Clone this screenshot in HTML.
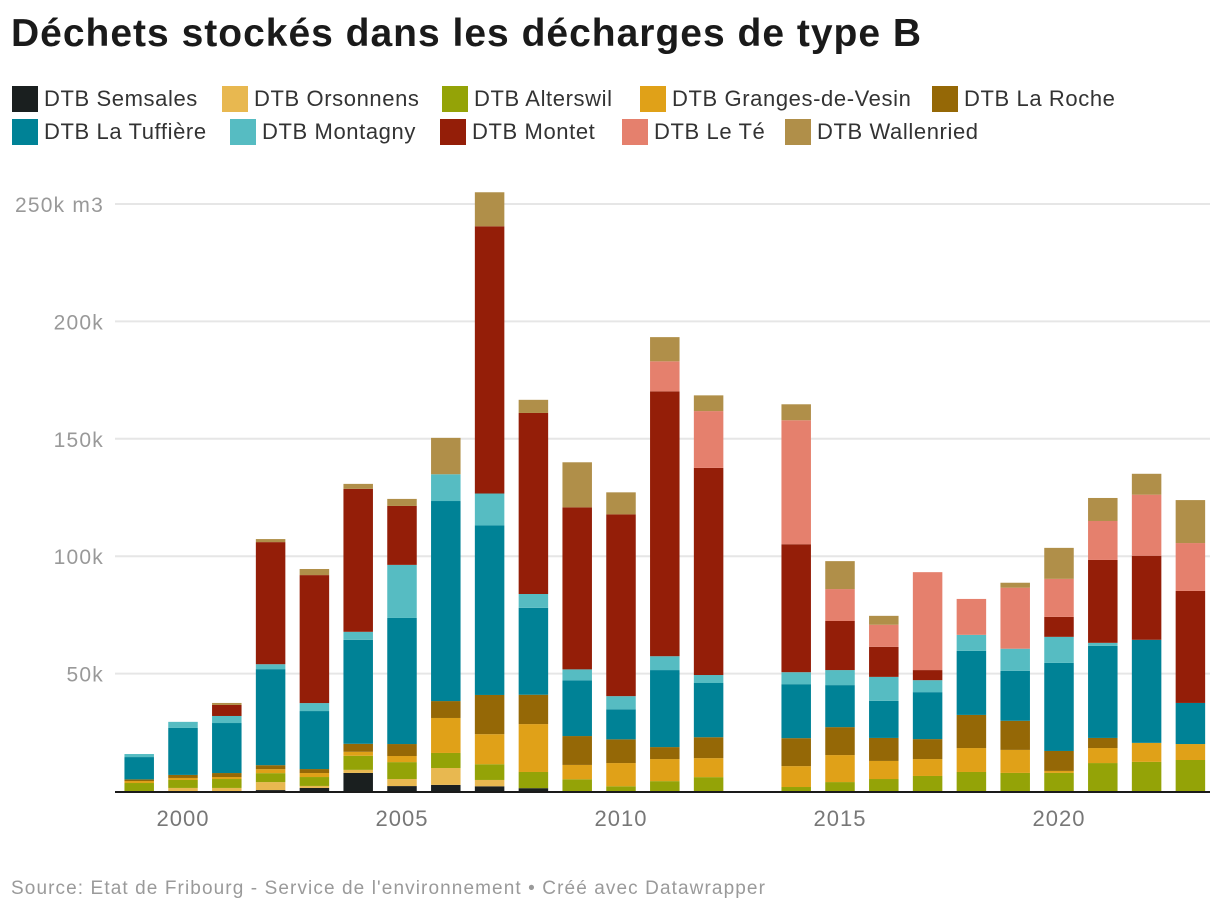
<!DOCTYPE html>
<html><head><meta charset="utf-8"><style>
body{margin:0;background:#fff;font-family:"Liberation Sans",sans-serif;}
#wrap{position:relative;width:1220px;height:916px;overflow:hidden;}
h1{position:absolute;left:11px;top:12px;margin:0;font-size:39px;font-weight:bold;color:#1a1a1a;letter-spacing:1px;}
.lg{position:absolute;font-size:22px;color:#333;height:26px;line-height:26px;white-space:nowrap;letter-spacing:0.6px;}
.lg i{display:inline-block;width:26px;height:26px;vertical-align:top;margin-right:6px;}
#src{position:absolute;left:11px;top:878px;font-size:19px;color:#9a9a9a;letter-spacing:1.1px;}
</style></head><body>
<div id="wrap">
<h1>Déchets stockés dans les décharges de type B</h1>
<div id="legend"></div>
<svg id="chart" width="1220" height="916" style="position:absolute;left:0;top:0"></svg>
<div id="src">Source: Etat de Fribourg - Service de l'environnement • Créé avec Datawrapper</div>
</div>
<script>
const years=[1999,2000,2001,2002,2003,2004,2005,2006,2007,2008,2009,2010,2011,2012,2013,2014,2015,2016,2017,2018,2019,2020,2021,2022,2023];
const seriesNames=["DTB Semsales","DTB Orsonnens","DTB Alterswil","DTB Granges-de-Vesin","DTB La Roche","DTB La Tuffière","DTB Montagny","DTB Montet","DTB Le Té","DTB Wallenried"];
const semsales=[0,0,0,0.4,1.3,7.7,2.1,2.6,2,1.2,0,0,0,0,0,0,0,0,0,0,0,0,0,0,0];
const orsonnens=[0,1.3,1.3,3.4,0.85,1.3,3,7.2,2.7,0,0,0,0,0,0,0,0,0,0,0,0,0,0,0,0];
const alterswil=[3.4,3.4,3.8,3.8,3.8,6,7.2,6.4,6.7,6.9,5,2,4.2,5.9,0,1.7,3.8,5.1,6.4,8.1,7.7,7.7,11.9,12.4,13.2];
const granges=[0.85,0.85,0.85,1.7,1.7,1.7,2.6,14.9,12.8,20.4,6.1,9.9,9.4,8.1,0,8.9,11.5,7.7,7.2,10.2,9.8,0.85,6.4,8.1,6.8];
const laRoche=[0.7,1.3,1.7,1.7,1.7,3.4,5.1,7.2,16.7,12.5,12.3,10.1,5.1,8.9,0,11.9,11.9,9.8,8.5,14.1,12.4,8.5,4.3,0,0];
const tuffiere=[9.5,20,21.3,40.9,24.7,44.3,53.7,85.2,72.2,37,23.7,12.8,32.8,23.1,0,23,17.9,15.8,20,27.3,21.3,37.5,39.2,43.9,17.5];
const montagny=[1.3,2.6,3,2.1,3.4,3.4,22.6,11.4,13.6,5.9,4.7,5.6,5.9,3.4,0,5.1,6.4,10.2,5.1,6.8,9.4,11.1,1.3,0,0];
const montet=[0,0,4.7,52,54.5,60.9,25.1,0,113.8,77.1,69,77.4,112.8,88.2,0,54.5,20.9,12.8,4.3,0,0,8.5,35.3,35.8,47.7];
const leTe=[0,0,0,0,0,0,0,0,0,0,0,0,12.8,24.2,0,52.8,13.6,9.4,41.7,15.3,26,16.2,16.6,26,20.4];
const wallenried=[0,0,0.85,1.3,2.6,2.1,3,15.5,14.5,5.6,19.2,9.4,10.3,6.7,0,6.8,11.9,3.8,0,0,2.1,13.2,9.8,8.9,18.3];
const yTicks=[50,100,150,200,250];
const xTicks=[2000,2005,2010,2015,2020];

const data=[semsales,orsonnens,alterswil,granges,laRoche,tuffiere,montagny,montet,leTe,wallenried];
const colors=["#1a1f1f","#e8b850","#94a307","#e0a118","#956806","#008296","#56bcc2","#941e08","#e5806d","#b08f49"];
const NS="http://www.w3.org/2000/svg";
const svg=document.getElementById('chart');
const y0=791,pxPerK=(791-204)/250;
const yScale=v=>y0-v*pxPerK;
const xScale=yr=>183+(yr-2000)*43.8;
const bw=29.5;
function mk(t,a){const e=document.createElementNS(NS,t);for(const k in a)e.setAttribute(k,a[k]);svg.appendChild(e);return e;}
yTicks.forEach(t=>{
  const g=mk('line',{x1:115,x2:1210,y1:yScale(t),y2:yScale(t),stroke:'#e6e6e6','stroke-width':2});
  
  
  const tx=mk('text',{x:104,y:yScale(t)+8,'text-anchor':'end','font-size':21,fill:'#999','letter-spacing':'1.2','font-family':'Liberation Sans, sans-serif'});
  tx.textContent=t===250?'250k m3':t+'k';
  
  
});
years.forEach((yr,i)=>{
  let cum=0;
  data.forEach((s,j)=>{
    const v=s[i];if(!v)return;
    const r=mk('rect',{x:xScale(yr)-bw/2,y:yScale(cum+v),width:bw,height:v*pxPerK,fill:colors[j]});
    
    
    cum+=v;
  });
});
const ax=mk('line',{x1:115,x2:1210,y1:y0+1,y2:y0+1,stroke:'#1a1a1a','stroke-width':2});


xTicks.forEach(t=>{
  const tx=mk('text',{x:xScale(t),y:826,'text-anchor':'middle','font-size':22,fill:'#777','letter-spacing':'1','font-family':'Liberation Sans, sans-serif'});
  tx.textContent=t;
  
  
});
const lpos=[[12,86],[222,86],[442,86],[640,86],[932,86],[12,119],[230,119],[440,119],[622,119],[785,119]];
const lg=document.getElementById('legend');
seriesNames.forEach((n,j)=>{
  const d=document.createElement('div');
  d.className='lg';d.style.left=lpos[j][0]+'px';d.style.top=lpos[j][1]+'px';
  d.innerHTML='<i style="background:'+colors[j]+'"></i>'+n;
  
  
  lg.appendChild(d);
});
</script>
</body></html>
